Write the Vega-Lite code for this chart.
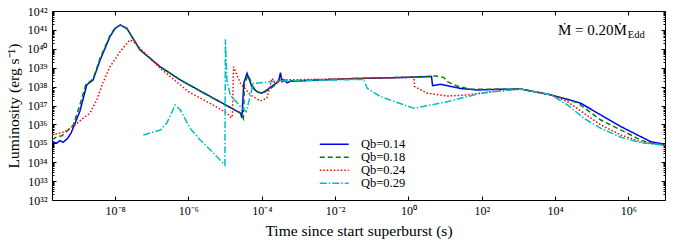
{
  "$schema": "https://vega.github.io/schema/vega-lite/v6.json",
  "width": 613,
  "height": 189,
  "autosize": "none",
  "padding": {"left": 52, "top": 11, "right": 17, "bottom": 52},
  "background": "white",
  "config": {
    "view": {"stroke": "black", "strokeWidth": 1},
    "axis": {"grid": false, "domain": false, "labelFont": "Liberation Serif", "labelFontSize": 12, "labelColor": "black", "tickColor": "black", "tickWidth": 1, "titleFont": "Liberation Serif", "titleFontSize": 15.5, "titleFontWeight": "normal", "titleColor": "black", "labelOverlap": false, "labelFlush": false},
    "legend": {"labelFont": "Liberation Serif", "labelFontSize": 12.5, "labelColor": "black"}
  },
  "datasets": {
    "curves": [
      {"s":"Qb=0.14","t":1.905e-10,"L":1.26e35},{"s":"Qb=0.14","t":2.51e-10,"L":1.0e35},{"s":"Qb=0.14","t":3.16e-10,"L":1.41e35},{"s":"Qb=0.14","t":3.8e-10,"L":1.12e35},{"s":"Qb=0.14","t":5.01e-10,"L":1.78e35},{"s":"Qb=0.14","t":6.31e-10,"L":3.55e35},{"s":"Qb=0.14","t":1.096e-9,"L":5.01e36},{"s":"Qb=0.14","t":1.698e-9,"L":1.26e38},{"s":"Qb=0.14","t":2.51e-9,"L":2.24e38},{"s":"Qb=0.14","t":3.89e-9,"L":2.51e39},{"s":"Qb=0.14","t":7.24e-9,"L":4.37e40},{"s":"Qb=0.14","t":1e-8,"L":1.2e41},{"s":"Qb=0.14","t":1.38e-8,"L":1.82e41},{"s":"Qb=0.14","t":2.09e-8,"L":1.2e41},{"s":"Qb=0.14","t":4.79e-8,"L":8.71e39},{"s":"Qb=0.14","t":1.7e-7,"L":1.12e39},{"s":"Qb=0.14","t":6.03e-7,"L":2.24e38},{"s":"Qb=0.14","t":3.98e-6,"L":2.95e37},{"s":"Qb=0.14","t":2.63e-5,"L":3.98e36},{"s":"Qb=0.14","t":2.88e-5,"L":2.24e36},{"s":"Qb=0.14","t":3.24e-5,"L":1.58e38},{"s":"Qb=0.14","t":3.98e-5,"L":5.01e38},{"s":"Qb=0.14","t":5.37e-5,"L":1e38},{"s":"Qb=0.14","t":7.41e-5,"L":5.37e37},{"s":"Qb=0.14","t":1.0e-4,"L":4.47e37},{"s":"Qb=0.14","t":1.38e-4,"L":6.61e37},{"s":"Qb=0.14","t":2.09e-4,"L":1.2e38},{"s":"Qb=0.14","t":2.88e-4,"L":1.82e38},{"s":"Qb=0.14","t":3.24e-4,"L":5.5e38},{"s":"Qb=0.14","t":3.55e-4,"L":1.82e38},{"s":"Qb=0.14","t":4.37e-4,"L":2.04e38},{"s":"Qb=0.14","t":4.9e-4,"L":1.58e38},{"s":"Qb=0.14","t":6.03e-4,"L":1.9e38},{"s":"Qb=0.14","t":2.63e-2,"L":2.63e38},{"s":"Qb=0.14","t":1,"L":3.09e38},{"s":"Qb=0.14","t":4.27,"L":3.39e38},{"s":"Qb=0.14","t":4.57,"L":1.12e38},{"s":"Qb=0.14","t":7.59,"L":1.32e38},{"s":"Qb=0.14","t":26.9,"L":7.94e37},{"s":"Qb=0.14","t":75.9,"L":6.61e37},{"s":"Qb=0.14","t":316,"L":7.24e37},{"s":"Qb=0.14","t":1175,"L":7.41e37},{"s":"Qb=0.14","t":7760,"L":3.63e37},{"s":"Qb=0.14","t":2.19e4,"L":2.14e37},{"s":"Qb=0.14","t":5.01e4,"L":1.32e37},{"s":"Qb=0.14","t":1.78e5,"L":3.16e36},{"s":"Qb=0.14","t":6.31e5,"L":7.59e35},{"s":"Qb=0.14","t":2.19e6,"L":2.24e35},{"s":"Qb=0.14","t":4.17e6,"L":1.2e35},{"s":"Qb=0.14","t":1e7,"L":8.91e34},
      {"s":"Qb=0.18","t":1.905e-10,"L":1.58e35},{"s":"Qb=0.18","t":2.63e-10,"L":2.24e35},{"s":"Qb=0.18","t":3.55e-10,"L":2.51e35},{"s":"Qb=0.18","t":5.89e-10,"L":6.17e35},{"s":"Qb=0.18","t":7.24e-10,"L":9.33e35},{"s":"Qb=0.18","t":1.096e-9,"L":1.07e37},{"s":"Qb=0.18","t":1.585e-9,"L":1.26e38},{"s":"Qb=0.18","t":2.51e-9,"L":2.51e38},{"s":"Qb=0.18","t":3.89e-9,"L":3.16e39},{"s":"Qb=0.18","t":7.24e-9,"L":5.01e40},{"s":"Qb=0.18","t":1e-8,"L":1.26e41},{"s":"Qb=0.18","t":1.38e-8,"L":1.82e41},{"s":"Qb=0.18","t":2.09e-8,"L":1.2e41},{"s":"Qb=0.18","t":4.79e-8,"L":8.71e39},{"s":"Qb=0.18","t":1.7e-7,"L":1.12e39},{"s":"Qb=0.18","t":6.03e-7,"L":2.24e38},{"s":"Qb=0.18","t":3.98e-6,"L":2.95e37},{"s":"Qb=0.18","t":2.63e-5,"L":3.98e36},{"s":"Qb=0.18","t":3.16e-5,"L":2.0e36},{"s":"Qb=0.18","t":3.39e-5,"L":1.58e38},{"s":"Qb=0.18","t":4.27e-5,"L":3.98e38},{"s":"Qb=0.18","t":5.75e-5,"L":1e38},{"s":"Qb=0.18","t":7.94e-5,"L":5.01e37},{"s":"Qb=0.18","t":1.07e-4,"L":4.47e37},{"s":"Qb=0.18","t":1.585e-4,"L":7.08e37},{"s":"Qb=0.18","t":2.4e-4,"L":1.26e38},{"s":"Qb=0.18","t":3.02e-4,"L":2.75e38},{"s":"Qb=0.18","t":5.01e-4,"L":2.0e38},{"s":"Qb=0.18","t":2.63e-2,"L":2.63e38},{"s":"Qb=0.18","t":1,"L":3.16e38},{"s":"Qb=0.18","t":5.5,"L":3.63e38},{"s":"Qb=0.18","t":9.12,"L":3.09e38},{"s":"Qb=0.18","t":11.5,"L":1.82e38},{"s":"Qb=0.18","t":21.4,"L":1.07e38},{"s":"Qb=0.18","t":50.1,"L":7.24e37},{"s":"Qb=0.18","t":316,"L":7.24e37},{"s":"Qb=0.18","t":1175,"L":7.41e37},{"s":"Qb=0.18","t":7760,"L":3.63e37},{"s":"Qb=0.18","t":2.19e4,"L":2.0e37},{"s":"Qb=0.18","t":4.07e4,"L":1.41e37},{"s":"Qb=0.18","t":1.78e5,"L":1.7e36},{"s":"Qb=0.18","t":6.31e5,"L":5.01e35},{"s":"Qb=0.18","t":2.19e6,"L":1.48e35},{"s":"Qb=0.18","t":4.17e6,"L":1e35},{"s":"Qb=0.18","t":1e7,"L":8.32e34},
      {"s":"Qb=0.24","t":1.905e-10,"L":2.75e35},{"s":"Qb=0.24","t":4.27e-10,"L":4.07e35},{"s":"Qb=0.24","t":8.13e-10,"L":9.33e35},{"s":"Qb=0.24","t":1.35e-9,"L":2.14e36},{"s":"Qb=0.24","t":2.04e-9,"L":3.89e36},{"s":"Qb=0.24","t":3.16e-9,"L":1.95e37},{"s":"Qb=0.24","t":4.57e-9,"L":1.48e38},{"s":"Qb=0.24","t":7.24e-9,"L":1.12e39},{"s":"Qb=0.24","t":1.38e-8,"L":7.08e39},{"s":"Qb=0.24","t":2.29e-8,"L":2.4e40},{"s":"Qb=0.24","t":2.63e-8,"L":2.95e40},{"s":"Qb=0.24","t":3.55e-8,"L":1.95e40},{"s":"Qb=0.24","t":6.61e-8,"L":5.75e39},{"s":"Qb=0.24","t":1.7e-7,"L":9.33e38},{"s":"Qb=0.24","t":1e-6,"L":5.37e37},{"s":"Qb=0.24","t":3.98e-6,"L":1.26e37},{"s":"Qb=0.24","t":1.12e-5,"L":3.98e36},{"s":"Qb=0.24","t":1.48e-5,"L":2.24e36},{"s":"Qb=0.24","t":1.585e-5,"L":3.16e36},{"s":"Qb=0.24","t":1.7e-5,"L":1.12e39},{"s":"Qb=0.24","t":2.63e-5,"L":1.48e38},{"s":"Qb=0.24","t":4.9e-5,"L":3.63e37},{"s":"Qb=0.24","t":9.12e-5,"L":1.74e37},{"s":"Qb=0.24","t":1.38e-4,"L":2.4e37},{"s":"Qb=0.24","t":1.9e-4,"L":2.75e38},{"s":"Qb=0.24","t":2.34e-4,"L":1.48e38},{"s":"Qb=0.24","t":3.24e-4,"L":2.24e38},{"s":"Qb=0.24","t":3.16e-2,"L":2.63e38},{"s":"Qb=0.24","t":1.413,"L":3.09e38},{"s":"Qb=0.24","t":1.479,"L":1e38},{"s":"Qb=0.24","t":3.31,"L":4.47e37},{"s":"Qb=0.24","t":11.5,"L":3.16e37},{"s":"Qb=0.24","t":40.7,"L":3.63e37},{"s":"Qb=0.24","t":174,"L":5.37e37},{"s":"Qb=0.24","t":617,"L":6.61e37},{"s":"Qb=0.24","t":1175,"L":7.41e37},{"s":"Qb=0.24","t":7760,"L":3.63e37},{"s":"Qb=0.24","t":2.19e4,"L":1.58e37},{"s":"Qb=0.24","t":6.17e4,"L":3.89e36},{"s":"Qb=0.24","t":1.78e5,"L":9.33e35},{"s":"Qb=0.24","t":6.31e5,"L":2.75e35},{"s":"Qb=0.24","t":2.19e6,"L":1.2e35},{"s":"Qb=0.24","t":1e7,"L":7.94e34},
      {"s":"Qb=0.29","t":5.89e-8,"L":2.75e35},{"s":"Qb=0.29","t":1.7e-7,"L":5.01e35},{"s":"Qb=0.29","t":2.57e-7,"L":1.17e36},{"s":"Qb=0.29","t":4.37e-7,"L":1.07e37},{"s":"Qb=0.29","t":6.03e-7,"L":5.75e36},{"s":"Qb=0.29","t":1.12e-6,"L":6.17e35},{"s":"Qb=0.29","t":2.09e-6,"L":1.48e35},{"s":"Qb=0.29","t":3.24e-6,"L":6.61e34},{"s":"Qb=0.29","t":9.9e-6,"L":7.08e33},{"s":"Qb=0.29","t":1.02e-5,"L":3.16e40},{"s":"Qb=0.29","t":1.12e-5,"L":2.24e38},{"s":"Qb=0.29","t":1.38e-5,"L":3.63e37},{"s":"Qb=0.29","t":2.63e-5,"L":8.71e36},{"s":"Qb=0.29","t":3.8e-5,"L":4.68e36},{"s":"Qb=0.29","t":5.89e-5,"L":1.48e38},{"s":"Qb=0.29","t":3.16e-4,"L":2.0e38},{"s":"Qb=0.29","t":6.03e-2,"L":2.4e38},{"s":"Qb=0.29","t":7.59e-2,"L":7.94e37},{"s":"Qb=0.29","t":0.174,"L":2.95e37},{"s":"Qb=0.29","t":1.413,"L":7.08e36},{"s":"Qb=0.29","t":11.5,"L":1.58e37},{"s":"Qb=0.29","t":93.3,"L":4.47e37},{"s":"Qb=0.29","t":617,"L":6.61e37},{"s":"Qb=0.29","t":1175,"L":7.41e37},{"s":"Qb=0.29","t":7760,"L":3.63e37},{"s":"Qb=0.29","t":2.19e4,"L":1.07e37},{"s":"Qb=0.29","t":6.17e4,"L":2.09e36},{"s":"Qb=0.29","t":1.78e5,"L":6.17e35},{"s":"Qb=0.29","t":6.31e5,"L":2.09e35},{"s":"Qb=0.29","t":2.19e6,"L":1.07e35},{"s":"Qb=0.29","t":1e7,"L":7.94e34}
    ]
  },
  "layer": [
    {
      "data": {"name": "curves"},
      "mark": {"type": "line", "strokeWidth": 1.5, "clip": true},
      "encoding": {
        "x": {"field": "t", "type": "quantitative",
          "scale": {"type": "log", "domain": [1.9e-10, 1e7], "nice": false},
          "axis": {"orient": "bottom", "title": "Time since start superburst (s)", "values": [1e-8, 1e-6, 1e-4, 1e-2, 1, 100, 1e4, 1e6],
            "tickSize": -4, "labelPadding": 9, "titlePadding": 7,
            "labelExpr": "'10' + (round(log(datum.value)/LN10) < 0 ? '⁻' : '') + substring('⁰¹²³⁴⁵⁶⁷⁸⁹', abs(round(log(datum.value)/LN10)), abs(round(log(datum.value)/LN10)) + 1)"}},
        "y": {"field": "L", "type": "quantitative",
          "scale": {"type": "log", "domain": [1e32, 1e42], "nice": false},
          "axis": {"orient": "left", "title": "Luminosity (erg s⁻¹)", "titlePadding": 5,
            "values": [1e32,2e32,3e32,4e32,5e32,6e32,7e32,8e32,9e32,1e33,2e33,3e33,4e33,5e33,6e33,7e33,8e33,9e33,1e34,2e34,3e34,4e34,5e34,6e34,7e34,8e34,9e34,1e35,2e35,3e35,4e35,5e35,6e35,7e35,8e35,9e35,1e36,2e36,3e36,4e36,5e36,6e36,7e36,8e36,9e36,1e37,2e37,3e37,4e37,5e37,6e37,7e37,8e37,9e37,1e38,2e38,3e38,4e38,5e38,6e38,7e38,8e38,9e38,1e39,2e39,3e39,4e39,5e39,6e39,7e39,8e39,9e39,1e40,2e40,3e40,4e40,5e40,6e40,7e40,8e40,9e40,1e41,2e41,3e41,4e41,5e41,6e41,7e41,8e41,9e41,1e42],
            "tickSize": {"condition": {"test": "abs(log(datum.value)/LN10 - round(log(datum.value)/LN10)) < 0.01", "value": -4}, "value": -2},
            "labelPadding": 9,
            "labelExpr": "abs(log(datum.value)/LN10 - round(log(datum.value)/LN10)) < 0.01 ? '10' + substring('⁰¹²³⁴⁵⁶⁷⁸⁹', floor(round(log(datum.value)/LN10)/10), floor(round(log(datum.value)/LN10)/10) + 1) + substring('⁰¹²³⁴⁵⁶⁷⁸⁹', round(log(datum.value)/LN10) % 10, round(log(datum.value)/LN10) % 10 + 1) : ''"}},
        "color": {"field": "s", "type": "nominal",
          "scale": {"domain": ["Qb=0.14", "Qb=0.18", "Qb=0.24", "Qb=0.29"], "range": ["#0000ff", "#008000", "#ff0000", "#00bfbf"]},
          "legend": {"orient": "none", "legendX": 276, "legendY": 127, "title": null, "symbolType": "M-3,0H3", "symbolSize": 93, "symbolStrokeWidth": 1.5, "rowPadding": 0, "labelOffset": 20.5}},
        "strokeDash": {"field": "s", "type": "nominal",
          "scale": {"domain": ["Qb=0.14", "Qb=0.18", "Qb=0.24", "Qb=0.29"], "range": [[1, 0], [5, 3], [1.5, 2], [7, 2, 1.5, 2]]}}
      }
    },
    {
      "data": {"values": [{"t": 9.1e5, "L": 5.4e40, "main": "Ṁ = 0.20Ṁ", "sub": "Edd"}]},
      "mark": {"type": "text", "align": "right", "baseline": "alphabetic", "fontSize": 15, "font": "Liberation Serif", "color": "black"},
      "encoding": {
        "x": {"field": "t", "type": "quantitative",
          "axis": {"orient": "top", "title": null, "labels": false, "values": [1e-8, 1e-6, 1e-4, 1e-2, 1, 100, 1e4, 1e6], "tickSize": -4}},
        "y": {"field": "L", "type": "quantitative",
          "axis": {"orient": "right", "title": null, "labels": false,
            "values": [1e32,2e32,3e32,4e32,5e32,6e32,7e32,8e32,9e32,1e33,2e33,3e33,4e33,5e33,6e33,7e33,8e33,9e33,1e34,2e34,3e34,4e34,5e34,6e34,7e34,8e34,9e34,1e35,2e35,3e35,4e35,5e35,6e35,7e35,8e35,9e35,1e36,2e36,3e36,4e36,5e36,6e36,7e36,8e36,9e36,1e37,2e37,3e37,4e37,5e37,6e37,7e37,8e37,9e37,1e38,2e38,3e38,4e38,5e38,6e38,7e38,8e38,9e38,1e39,2e39,3e39,4e39,5e39,6e39,7e39,8e39,9e39,1e40,2e40,3e40,4e40,5e40,6e40,7e40,8e40,9e40,1e41,2e41,3e41,4e41,5e41,6e41,7e41,8e41,9e41,1e42],
            "tickSize": {"condition": {"test": "abs(log(datum.value)/LN10 - round(log(datum.value)/LN10)) < 0.01", "value": -4}, "value": -2}}},
        "text": {"field": "main"}
      }
    },
    {
      "data": {"values": [{"t": 9.1e5, "L": 5.4e40, "main": "Ṁ = 0.20Ṁ", "sub": "Edd"}]},
      "mark": {"type": "text", "align": "left", "baseline": "alphabetic", "dx": 1, "dy": 3, "fontSize": 10.5, "font": "Liberation Serif", "color": "black"},
      "encoding": {
        "x": {"field": "t", "type": "quantitative", "axis": null},
        "y": {"field": "L", "type": "quantitative", "axis": null},
        "text": {"field": "sub"}
      }
    }
  ],
  "resolve": {"axis": {"x": "independent", "y": "independent"}}
}
